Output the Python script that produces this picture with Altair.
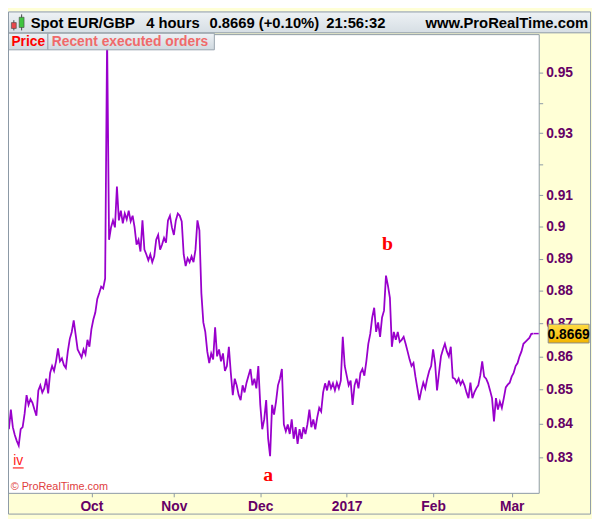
import altair as alt
import pandas as pd

# ---------------- data ----------------
# closing price every half trading day, from 1 Sep 2016 to 7 Mar 2017
prices = [
    0.8383, 0.8441, 0.8389, 0.8366, 0.8349, 0.8335, 0.8383, 0.8389, 0.8429, 0.8484,
    0.8455, 0.8472, 0.8461, 0.8441, 0.8423, 0.8498, 0.8513, 0.8492, 0.8504, 0.8533,
    0.8489, 0.8550, 0.8571, 0.8556, 0.8585, 0.8624, 0.8585, 0.8594, 0.8574, 0.8565,
    0.8615, 0.8653, 0.8674, 0.8709, 0.8665, 0.8621, 0.8609, 0.8597, 0.8621, 0.8606,
    0.8650, 0.8629, 0.8682, 0.8712, 0.8733, 0.8775, 0.8793, 0.8813, 0.8807, 0.8838,
    0.9620, 0.8959, 0.8998, 0.9020, 0.8998, 0.9128, 0.9020, 0.9051, 0.9011, 0.9042,
    0.9023, 0.9051, 0.9017, 0.9035, 0.8998, 0.8944, 0.8959, 0.8922, 0.9020, 0.8928,
    0.8913, 0.8895, 0.8913, 0.8889, 0.8907, 0.8959, 0.8974, 0.8928, 0.8944, 0.8965,
    0.8950, 0.9020, 0.9035, 0.8998, 0.8974, 0.9020, 0.9042, 0.9035, 0.9017, 0.8913,
    0.8877, 0.8901, 0.8889, 0.8907, 0.8889, 0.8928, 0.9020, 0.8989, 0.8793, 0.8703,
    0.8674, 0.8615, 0.8580, 0.8609, 0.8591, 0.8688, 0.8600, 0.8621, 0.8585, 0.8609,
    0.8556, 0.8571, 0.8629, 0.8550, 0.8484, 0.8533, 0.8513, 0.8484, 0.8469, 0.8513,
    0.8492, 0.8521, 0.8542, 0.8562, 0.8513, 0.8533, 0.8504, 0.8571, 0.8455, 0.8383,
    0.8412, 0.8469, 0.8355, 0.8304, 0.8455, 0.8426, 0.8464, 0.8513, 0.8533, 0.8562,
    0.8397, 0.8377, 0.8397, 0.8369, 0.8412, 0.8355, 0.8389, 0.8340, 0.8383, 0.8355,
    0.8389, 0.8369, 0.8397, 0.8441, 0.8389, 0.8412, 0.8383, 0.8418, 0.8446, 0.8435,
    0.8492, 0.8519, 0.8498, 0.8527, 0.8504, 0.8519, 0.8498, 0.8521, 0.8504, 0.8527,
    0.8659, 0.8571, 0.8542, 0.8513, 0.8527, 0.8455, 0.8513, 0.8533, 0.8504, 0.8550,
    0.8562, 0.8542, 0.8585, 0.8638, 0.8668, 0.8718, 0.8748, 0.8674, 0.8703, 0.8659,
    0.8718, 0.8739, 0.8847, 0.8816, 0.8778, 0.8629, 0.8674, 0.8650, 0.8674, 0.8644,
    0.8650, 0.8659, 0.8638, 0.8615, 0.8591, 0.8571, 0.8580, 0.8539, 0.8504, 0.8469,
    0.8498, 0.8521, 0.8504, 0.8533, 0.8556, 0.8571, 0.8621, 0.8580, 0.8498, 0.8550,
    0.8600, 0.8621, 0.8638, 0.8615, 0.8600, 0.8629, 0.8536, 0.8533, 0.8521, 0.8533,
    0.8515, 0.8527, 0.8513, 0.8492, 0.8475, 0.8521, 0.8475, 0.8492, 0.8504, 0.8513,
    0.8542, 0.8585, 0.8539, 0.8533, 0.8519, 0.8498, 0.8475, 0.8406, 0.8475, 0.8441,
    0.8464, 0.8446, 0.8475, 0.8507, 0.8515, 0.8521, 0.8539, 0.8550, 0.8571, 0.8580,
    0.8600, 0.8615, 0.8638, 0.8644, 0.8650, 0.8656, 0.8668, 0.8669,
]
# trading-day index (weekdays since 1 Sep 2016), half-day steps
bar_index = [1 + 0.5 * i for i in range(len(prices))]

month_ticks = [22, 43, 65, 87, 109, 129]
month_labels = ["Oct", "Nov", "Dec", "2017", "Feb", "Mar"]
price_ticks = [0.83, 0.84, 0.85, 0.86, 0.87, 0.88, 0.89, 0.90, 0.91, 0.92, 0.93, 0.94, 0.95]
hidden_ticks = [0.92, 0.94]

last_price = 0.8669
header_items = ["Spot EUR/GBP", "4 hours", "0.8669 (+0.10%)", "21:56:32"]

wave_labels = ["iv", "a", "b"]
wave_idx = [3.37, 67.0, 97.4]
wave_price = [0.8278, 0.8233, 0.8928]

df = pd.DataFrame({"idx": bar_index, "price": prices})
waves = pd.DataFrame({"label": wave_labels, "idx": wave_idx, "price": wave_price})
one = pd.DataFrame({"a": [1]})

# ---------------- layout helpers ----------------
W, H = 538, 465
TOP = 23
SX, SY = 592 / 600, 511 / 519
def X(r):
    return r * SX
def Y(r):
    return r * SY - TOP

SANS = "Liberation Sans"
PURPLE = "#9900cc"
LABEL = "#660066"

xscale = alt.Scale(domain=[0.77, 135.89], nice=False, zero=False)
yscale = alt.Scale(type="log", domain=[0.8198, 0.9629], nice=False, zero=False)

hide_expr = " || ".join(f"abs(datum.value - {v}) < 0.0005" for v in hidden_ticks)
y_label_expr = f"({hide_expr}) ? '' : format(datum.value, '.2~f')"
x_label_expr = f"{month_labels}[indexof({month_ticks}, datum.value)]"

line = alt.Chart(df).mark_line(color=PURPLE, strokeWidth=1.8).encode(
    x=alt.X("idx:Q", scale=xscale,
            axis=alt.Axis(values=month_ticks, labelExpr=x_label_expr, title=None, grid=False,
                          domain=False, tickColor="#8c99a6", tickSize=4, labelPadding=3,
                          labelFont=SANS, labelFontSize=14, labelFontWeight="bold",
                          labelColor=LABEL, labelFlush=False, labelOverlap=False)),
    y=alt.Y("price:Q", scale=yscale,
            axis=alt.Axis(orient="right", values=price_ticks, labelExpr=y_label_expr, title=None,
                          grid=False, domain=False, tickColor="#8c99a6", tickSize=4, labelPadding=3,
                          labelFont=SANS, labelFontSize=14, labelFontWeight="bold",
                          labelColor=LABEL, labelFlush=False, labelOverlap=False)),
)

def grad(c1, c2):
    return alt.Gradient(gradient="linear", x1=0, x2=0, y1=0, y2=1,
                        stops=[alt.GradientStop(color=c1, offset=0),
                               alt.GradientStop(color=c2, offset=1)])

def box(x1, y1, x2, y2, **kw):
    return alt.Chart(one).mark_rect(**kw).encode(
        x=alt.value(X(x1)), x2=alt.value(X(x2)), y=alt.value(Y(y1)), y2=alt.value(Y(y2)))

def vline(x, y1, y2, color, width=1):
    return alt.Chart(one).mark_rule(color=color, strokeWidth=width).encode(
        x=alt.value(X(x)), y=alt.value(Y(y1)), y2=alt.value(Y(y2)))

def txt(s, x, y, size, color, weight="bold", align="left", font=SANS):
    return alt.Chart(one).mark_text(text=s, fontSize=size, color=color, fontWeight=weight,
                                    align=align, baseline="alphabetic", font=font).encode(
        x=alt.value(X(x)), y=alt.value(Y(y)))

# wave annotations (placed in data coordinates)
wave_iv = alt.Chart(waves[waves.label == "iv"]).mark_text(
    font=SANS, fontSize=14, color="#ff2020", baseline="alphabetic", align="center").encode(
    x=alt.X("idx:Q", scale=xscale), y=alt.Y("price:Q", scale=yscale), text="label:N")
wave_iv_line = alt.Chart(one).mark_rule(color="#ff2020", strokeWidth=1.2).encode(
    x=alt.datum(2.0), x2=alt.datum(4.75), y=alt.datum(0.8270))
wave_ab = alt.Chart(waves[waves.label != "iv"]).mark_text(
    font="Liberation Serif", fontSize=20, fontWeight="bold", color="#ff0000",
    baseline="alphabetic", align="center").encode(
    x=alt.X("idx:Q", scale=xscale), y=alt.Y("price:Q", scale=yscale), text="label:N")

copyright_ = txt("© ProRealTime.com", 2.7, 492.3, 11, "#e04040", weight="normal")

# header bar
header = box(0, 0, 599, 22, color=grad("#eef2f5", "#d6dee4"))
header_line = alt.Chart(one).mark_rule(color="#8c99a6").encode(
    x=alt.value(0), x2=alt.value(X(599)), y=alt.value(Y(22)))
header_xs = [23.3, 142, 207, 327]
header_texts = [txt(s, hx, 17.3, 15, "#000000") for s, hx in zip(header_items, header_xs)]
site = txt("www.ProRealTime.com", 596, 17.3, 15, "#000000", align="right")

# candle icon
icon = [
    vline(6, 9, 19.5, "#444444"),
    box(3.5, 11.5, 8.5, 17.5, color="#e8474b", stroke="#444444", strokeWidth=0.6),
    vline(14, 3, 19.5, "#444444"),
    box(11.5, 6, 16.5, 16.5, color="#3fc43f", stroke="#444444", strokeWidth=0.6),
]

# legend tabs
tabs = [
    box(0, 22.5, 41, 39.5, color=grad("#eef2f5", "#cfd8df"), stroke="#98a4ae", strokeWidth=1),
    box(41, 22.5, 212, 39.5, color=grad("#eef2f5", "#cfd8df"), stroke="#98a4ae", strokeWidth=1),
    txt("Price", 3.5, 36, 14, "#ff0000"),
    txt("Recent executed orders", 45, 36, 14, "#f06a6a"),
]

# last price tag
tag_marker = alt.Chart(one).mark_rule(color=PURPLE, strokeWidth=1.5).encode(
    x=alt.value(X(540)), x2=alt.value(W), y=alt.datum(last_price))
tag_box = alt.Chart(one).mark_rect(
    color=grad("#ffdd44", "#f2b400"), stroke="#8a8a8a", strokeWidth=1,
    yOffset=-9.5, y2Offset=9.5).encode(
    x=alt.value(X(555)), x2=alt.value(X(597)), y=alt.datum(last_price), y2=alt.datum(last_price))
tag_text = alt.Chart(one).mark_text(
    text=f"{last_price:.4f}", font=SANS, fontSize=14, fontWeight="bold", color="#000000",
    align="center", baseline="middle", dy=1).encode(
    x=alt.value(X(576)), y=alt.datum(last_price))

border = alt.Chart(one).mark_rect(fill=None, stroke="#8c99a6", strokeWidth=1).encode(
    x=alt.value(0.5), x2=alt.value(X(598.5)), y=alt.value(Y(0.5)), y2=alt.value(Y(517.5)))

chart = alt.layer(
    line, wave_iv, wave_iv_line, wave_ab, copyright_,
    header, header_line, *header_texts, site, *icon, *tabs,
    tag_marker, tag_box, tag_text, border,
).properties(
    width=W, height=H,
    background="#ffffd6",
    padding={"left": 0, "top": TOP, "right": 592 - W, "bottom": 511 - TOP - H},
    autosize=alt.AutoSizeParams(type="none"),
).configure_view(fill="white", stroke="#8c99a6", strokeWidth=1)

chart.save("out.html", embed_options={"renderer": "svg", "actions": False})
